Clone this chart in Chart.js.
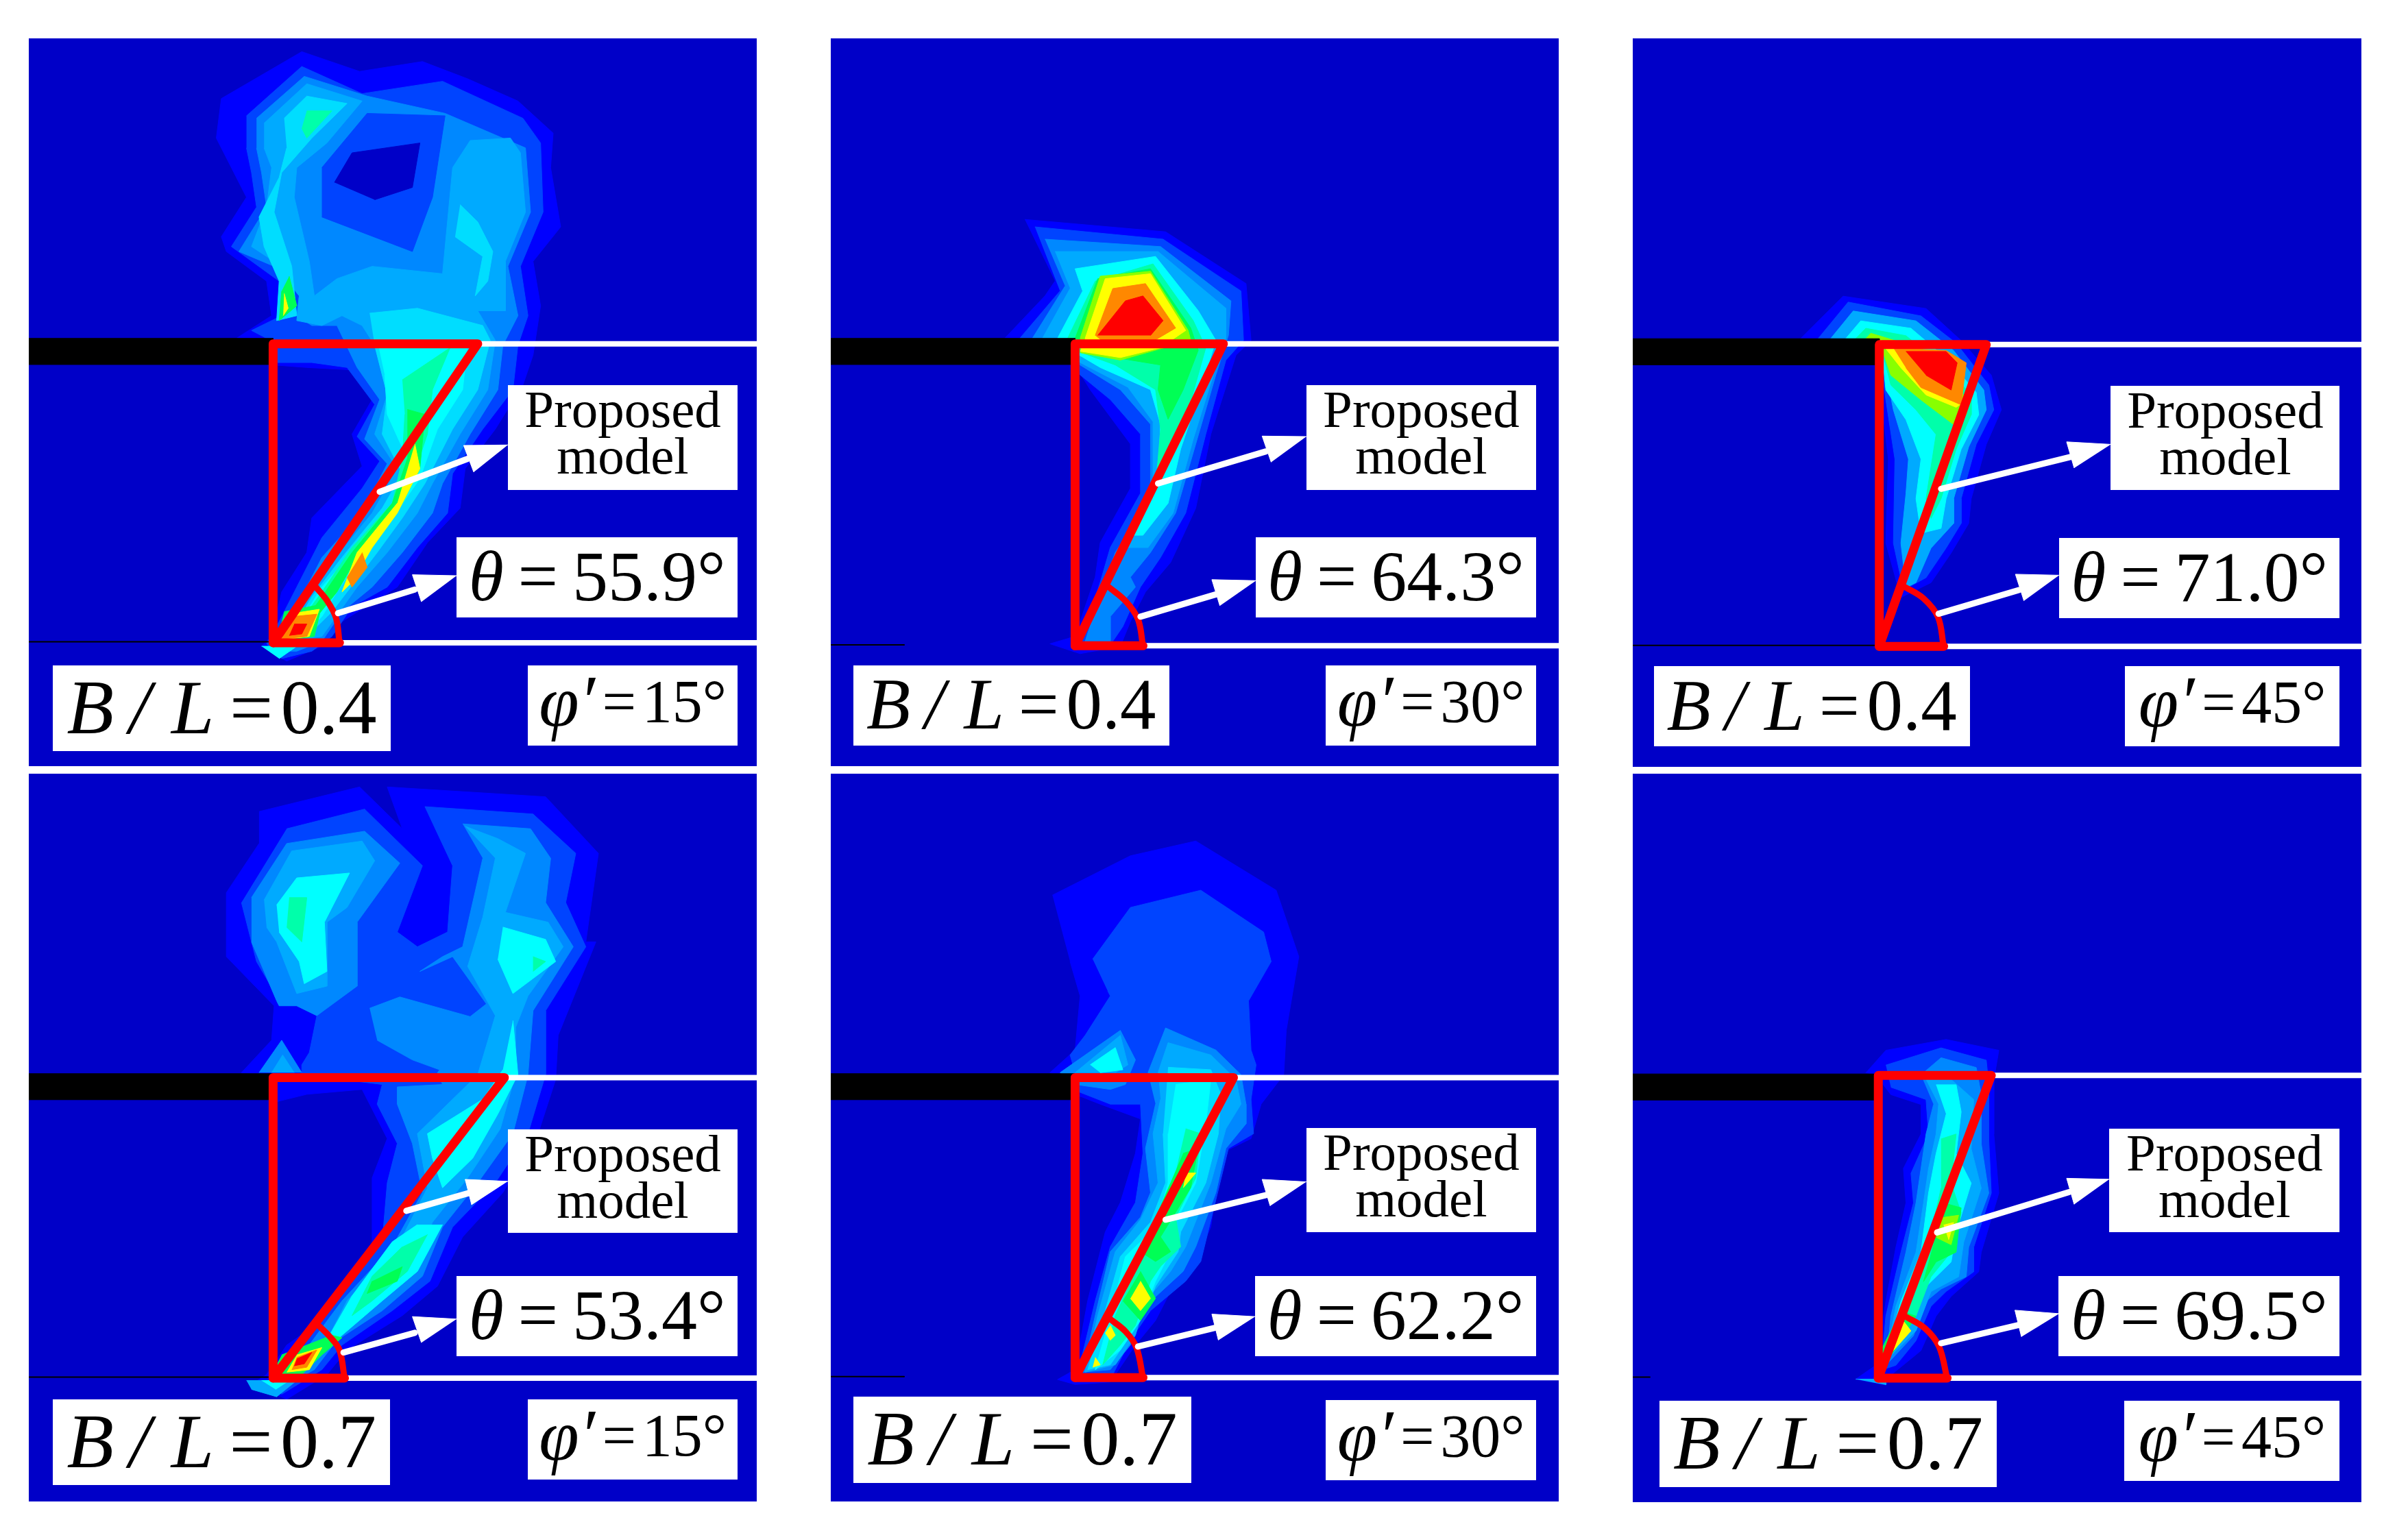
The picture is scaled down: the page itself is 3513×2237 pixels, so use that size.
<!DOCTYPE html>
<html>
<head>
<meta charset="utf-8">
<script src="https://cdn.jsdelivr.net/npm/chart.js@4"></script>
<style>
html,body{margin:0;padding:0;background:#fff;width:3513px;height:2237px;overflow:hidden}
.panel{position:absolute}
canvas{display:block;background:#0000c8}
.tag{position:absolute;background:#fff;color:#000;font-family:"Liberation Serif",serif;display:flex;align-items:center;justify-content:center;text-align:center;white-space:nowrap;box-sizing:border-box}
.tag i{font-style:italic}
</style>
</head>
<body>
<script>
// labels
const thetaLabels=['55.9','64.3','71.0','53.4','62.2','69.5'];
const ratioLabels=['0.4','0.4','0.4','0.7','0.7','0.7'];
const phiLabels=['15','30','45','15','30','45'];

// contour band colours, low to high
const bandColors=['#0000ff','#0044ff','#0088ff','#00aaff','#00ddff','#00ffff','#00ffaa','#00ff55','#88ff00','#ffff00','#ff8800','#ff0000','#0000c8'];

// panel 1: B/L 0.4, phi 15
const p1Levels=[0,1,2,1,12,3,4,4,4,5,6,7,9,10,7,9,10,11,6,7,9,5];
const p1Shapes=[
[470,686,540,640,530,570,450,510,440,480,490,400,465,350,430,280,440,200,600,105,715,145,840,125,930,160,1030,205,1100,270,1095,340,1115,460,1060,530,1075,620,1060,720,1040,780,985,870,925,950,915,1030,850,1100,790,1190,680,1260,640,1310,570,1340,520,1310,540,1290,560,1200,610,1120,620,1050,720,945,700,880,740,810,700,750,610,745,545,740],
[490,235,600,135,720,190,880,165,1040,240,1075,290,1080,430,1035,540,1050,640,1030,700,1020,790,960,870,900,960,890,1040,830,1110,770,1190,700,1230,660,1290,620,1320,560,1335,530,1305,555,1260,590,1190,640,1090,720,990,755,935,710,885,745,820,690,745,620,735,550,735,530,686,500,670,560,640,555,570,460,500,510,420,500,350,490,300],
[510,240,605,155,730,195,885,230,1045,300,1055,430,1010,540,1030,640,1000,700,990,790,935,880,880,980,860,1040,800,1120,740,1190,680,1240,640,1300,590,1320,555,1320,590,1230,640,1130,720,1040,770,940,725,890,755,810,710,745,670,660,620,660,590,640,595,600,545,540,475,510,530,420,520,350,510,300],
[640,340,730,230,885,235,860,400,820,510,640,440],
[665,370,700,310,835,290,820,380,745,405],
[525,250,610,170,720,205,650,290,590,340,585,400,615,530,625,600,670,565,740,540,880,555,900,340,935,285,1015,280,1035,310,1045,430,1005,530,1005,630,950,630,985,690,970,790,915,880,860,980,830,1040,770,1120,710,1190,675,1240,640,1290,570,1300,605,1220,660,1140,740,1040,790,950,745,880,770,800,745,700,720,660,680,640,640,660,590,650,595,600,545,530,500,500,530,420,540,340,525,300],
[565,240,610,195,690,210,620,280,560,350,545,430,580,540,590,640,550,650,555,570,525,500,515,440,555,360,570,300],
[915,415,950,450,980,510,970,570,945,600,960,520,905,480],
[735,635,830,625,960,660,975,690,950,790,900,870,845,980,800,1050,750,1120,690,1200,660,1240,610,1290,575,1290,620,1210,680,1130,760,1030,800,960,760,880,770,800,745,700],
[750,690,930,695,920,790,870,870,835,970,780,1050,730,1110,670,1200,640,1250,600,1290,585,1280,640,1190,710,1110,790,1010,810,930,770,840,765,760],
[800,770,895,705,860,790,850,880,820,970,770,1040,720,1100,680,1180,640,1230,600,1280,590,1270,640,1200,700,1110,780,1020,800,930,805,840],
[810,830,845,840,835,950,800,1020,750,1090,710,1130,670,1200,630,1250,590,1280,640,1210,700,1120,780,1020,810,930],
[825,900,835,950,790,1040,740,1110,700,1180,680,1200,710,1120,790,1020],
[720,1120,730,1150,700,1190,690,1170],
[565,1240,640,1225,625,1290,550,1300],
[572,1245,635,1235,615,1290,558,1297],
[580,1250,630,1245,610,1290,560,1295],
[585,1265,610,1265,600,1285,575,1288],
[610,225,660,225,610,280,600,260],
[575,560,590,620,555,650,560,590],
[565,595,573,625,563,640],
[520,1310,590,1310,555,1335]
];

// panel 2: B/L 0.4, phi 30
const p2Levels=[0,1,2,3,5,6,7,8,9,10,11,7];
const p2Shapes=[
[430,445,710,470,870,575,880,690,850,720,800,880,770,1030,720,1140,670,1200,640,1260,620,1310,540,1325,480,1305,530,1290,570,1170,580,1100,640,990,640,900,560,790,530,740,530,686,390,686,470,600,490,570],
[450,460,705,485,860,590,865,690,830,730,790,880,750,1040,700,1130,660,1190,625,1270,605,1300,540,1310,580,1180,600,1110,660,1000,660,880,600,810,540,760,530,686,420,686,500,590],
[470,485,700,500,840,610,835,680,810,760,770,900,730,1040,680,1120,640,1170,650,1190,600,1250,600,1300,550,1300,585,1190,610,1120,680,1010,680,860,620,790,540,740,530,686,445,686,510,580],
[490,510,695,510,830,625,830,685,805,760,765,890,725,1040,675,1110,630,1110,685,1000,685,855,635,785,540,735,530,686,465,686,520,585],
[495,686,545,590,530,545,690,520,775,630,810,690,780,790,740,910,715,1020,665,1085,645,1085,695,980,700,860,680,790,580,745,530,715],
[515,686,570,570,685,535,765,650,790,705,750,850,710,950,690,990,700,870,690,790,610,740,535,712],
[530,686,575,565,680,545,760,665,775,710,745,790,715,850,695,790,700,740,640,730,560,715],
[540,686,580,560,680,550,755,670,760,690,620,730,540,715],
[550,686,590,565,680,555,750,670,700,705,620,725,540,712],
[570,680,605,585,670,575,730,665,680,695,600,705],
[575,680,630,610,665,600,705,650,680,680],
[700,770,770,720,740,800,710,790]
];

// panel 3: B/L 0.4, phi 45
const p3Levels=[0,1,3,5,6,8,9,10,11];
const p3Shapes=[
[360,686,445,600,610,625,680,690,740,760,760,830,730,900,700,1010,695,1060,660,1120,620,1180,560,1210,530,1100,535,930,520,800,510,690],
[395,686,455,612,600,640,670,695,735,780,745,830,710,900,680,1010,680,1060,650,1110,610,1170,565,1195,545,1100,548,930,530,810,515,690],
[420,686,465,630,590,650,665,710,725,790,730,830,695,905,665,1010,665,1060,620,1110,590,1180,570,1190,560,1100,570,1000,575,930,545,830,520,700],
[450,686,480,650,580,665,655,730,710,795,715,840,680,910,650,1010,640,1070,600,1080,590,1010,600,930,570,850,530,790,520,690],
[470,686,490,665,570,680,650,745,700,800,700,840,670,910,640,1010,620,1050,610,1010,630,880,590,830,540,780,520,700],
[490,686,500,675,565,695,640,755,695,810,690,840,665,860,600,810,540,760,520,700],
[505,686,560,700,630,760,685,815,670,825,610,800,560,745,525,700],
[545,705,650,710,690,735,680,820,600,785,570,745],
[570,712,650,712,672,735,660,790,610,760]
];

// panel 4: B/L 0.7, phi 15
const p4Levels=[0,1,2,2,2,3,3,5,5,5,5,6,7,6,6,7,9,10,11,3,5,2,3];
const p4Shapes=[
[515,105,715,55,800,140,770,55,1085,75,1190,190,1165,370,1185,370,1110,560,1105,650,1070,760,1000,880,920,970,870,1070,800,1130,690,1200,650,1250,570,1300,500,1270,530,1250,570,1190,640,1140,740,1000,740,850,770,770,720,670,610,680,550,695,535,640,480,636,540,570,545,500,450,400,450,270,515,170],
[570,140,725,100,840,215,790,350,830,380,890,350,900,215,845,95,1060,110,1145,190,1125,290,1165,380,1085,510,1085,640,1050,760,985,860,900,950,855,1060,780,1120,680,1190,640,1240,560,1290,540,1270,600,1190,670,1100,760,980,770,860,790,780,750,700,760,660,600,640,600,620,615,595,630,520,590,500,550,480,510,410,480,290],
[500,280,570,170,725,145,795,210,710,330,710,460,630,520,590,500,555,500,550,490,500,370],
[920,130,1055,140,1095,200,1085,290,1140,380,1060,510,1050,640,1020,760,950,860,880,950,840,1050,760,1120,670,1180,625,1240,570,1270,600,1210,680,1100,780,990,840,880,820,780,790,700,790,665,880,660,870,636,970,500,900,400,835,430,880,400,920,380,960,200],
[735,505,795,482,935,522,975,490,985,530,950,636,890,636,820,610,750,570],
[525,285,580,185,720,165,745,205,690,300,650,330,650,460,590,475,550,370,530,340],
[925,135,990,160,1045,190,1005,310,1090,330,1120,380,1050,480,1025,545,1025,640,995,750,930,850,860,940,820,1040,750,1105,660,1170,640,1200,690,1100,790,990,850,870,830,760,950,640,985,520,930,420,960,320,985,200],
[550,295,590,240,695,230,645,330,650,430,605,455,595,410,555,350],
[1000,340,1085,365,1105,410,1020,475,990,405],
[1020,530,1030,640,990,720,940,810,880,870,860,810,850,760,960,690,1000,630],
[880,945,830,1040,760,1100,680,1170,630,1215,700,1090,780,980,830,945],
[850,965,810,1040,740,1100,700,1130,740,1050,800,990],
[800,1030,790,1060,730,1085,740,1060],
[575,280,610,280,600,370,570,340],
[1060,400,1085,410,1060,430],
[560,1210,660,1170,680,1175,640,1210,600,1250,560,1250,550,1230],
[590,1210,640,1195,615,1240,570,1245],
[590,1215,630,1200,610,1235,580,1240],
[590,1218,620,1205,605,1228,585,1232],
[490,1262,590,1262,550,1295,500,1280],
[520,1262,575,1262,548,1280],
[515,636,560,570,600,636],
[540,636,562,600,585,636]
];

// panel 5: B/L 0.7, phi 30
const p5Levels=[0,1,2,3,5,2,3,4,5,6,7,9,7,9,9,9];
const p5Shapes=[
[485,275,640,195,770,165,930,265,975,400,950,550,945,640,900,700,880,770,820,800,800,950,760,1040,720,1080,690,1140,650,1190,600,1265,530,1270,495,1260,530,1240,555,1100,590,960,620,900,650,800,660,730,580,700,530,680,480,636,530,590,540,480,520,410],
[565,405,640,300,780,265,905,350,920,410,875,490,880,590,890,620,880,690,885,760,835,790,780,1020,750,1060,680,1120,640,1180,605,1250,535,1250,570,1100,600,990,650,900,665,800,660,700,600,700,530,672,530,636,520,600,550,560,600,480,595,470],
[500,636,620,550,650,610,630,660,600,670,530,660],
[530,636,620,560,635,620,610,636],
[560,620,610,585,625,630,580,636],
[675,636,710,545,810,590,860,640,870,700,870,740,830,790,810,880,770,990,745,1040,660,1120,640,1190,600,1240,545,1245,570,1130,600,1000,660,930,680,880,670,790,690,700],
[695,636,715,575,800,600,850,650,860,700,830,750,800,860,750,990,720,1040,670,1100,650,1170,610,1230,550,1245,575,1130,610,1000,660,935,695,860,685,760,700,690],
[715,625,800,630,820,680,815,760,790,860,740,960,735,1000,690,1070,670,1120,640,1170,600,1230,555,1240,590,1120,620,1010,680,940,710,860,705,760],
[730,660,800,650,790,740,770,860,725,950,720,1000,690,1060,660,1140,620,1200,570,1240,600,1130,630,1010,690,950,715,860,715,760],
[750,750,780,760,770,850,730,930,740,990,700,1030,680,1060,650,1150,620,1190,585,1230,610,1130,650,1040,700,950,725,860],
[745,800,775,790,760,870,700,970,720,1000,690,1020,660,1000],
[750,840,770,840,745,870],
[660,1040,690,1095,660,1140,625,1100],
[660,1060,680,1095,660,1120,640,1095],
[600,1150,610,1170,600,1180,590,1165],
[570,1215,580,1230,565,1235]
];

// panel 6: B/L 0.7, phi 45
const p6Levels=[0,1,2,3,5,6,7,8,9,7,9,3];
const p6Shapes=[
[490,636,530,590,650,568,755,590,745,650,745,760,755,880,720,1000,715,1040,660,1090,630,1130,600,1200,540,1250,530,1270,470,1258,510,1230,530,1100,550,990,570,900,565,830,600,760,600,700,540,680,510,640],
[530,620,640,585,730,610,735,660,735,770,740,880,705,990,705,1040,650,1080,620,1110,590,1180,550,1230,520,1240,530,1130,560,1000,585,900,580,840,615,760,610,690,540,665],
[600,640,640,605,710,625,720,680,720,780,735,880,695,990,690,1050,640,1075,610,1100,585,1170,530,1230,540,1130,570,1000,590,900,600,830,610,760,625,700],
[610,650,650,640,705,690,700,790,720,870,685,980,675,1050,620,1080,590,1160,530,1220,550,1110,590,1000,605,900,615,830,630,760,635,700],
[630,660,670,660,680,715,670,800,700,860,670,960,660,1020,610,1070,580,1140,530,1210,560,1100,600,1000,615,880,630,800,650,720],
[640,770,670,760,660,860,680,920,660,1000,620,1050,590,1130,540,1200,570,1090,620,960,640,870],
[645,900,680,910,670,1000,630,1020,605,1060,640,930],
[640,930,675,925,660,985,630,970],
[645,945,665,940,655,975],
[520,1200,560,1120,590,1130,560,1180,530,1225],
[530,1200,565,1140,580,1160,545,1200],
[470,1258,530,1258,530,1270]
];

const allLevels=[p1Levels,p2Levels,p3Levels,p4Levels,p5Levels,p6Levels];
const allShapes=[p1Shapes,p2Shapes,p3Shapes,p4Shapes,p5Shapes,p6Shapes];

// proposed wedge: top-left, top-right, bottom-left, end of base
const wedges=[
[543,697,950,697,543,1303,675,1303],
[530,697,825,697,530,1309,665,1309],
[517,698,730,698,517,1309,645,1309],
[543,646,1003,646,543,1257,685,1257],
[530,646,845,646,530,1256,665,1256],
[515,641,740,641,515,1256,652,1256]
];
const arcs=[
[675,1303,668,1252,650,1217,628,1190],
[665,1309,655,1255,630,1218,597,1190],
[645,1309,634,1250,605,1212,565,1187],
[685,1257,675,1200,655,1172,628,1145],
[665,1256,652,1195,630,1162,597,1135],
[652,1256,636,1192,608,1155,568,1130]
];
// arrow shaft start, shaft end, head tip, head wings
const arrowsUpper=[
[755,997,930,930,1010,902,922,903,942,957],
[695,980,910,915,990,885,902,884,920,937],
[640,990,900,925,978,900,890,895,905,948],
[808,917,935,880,1010,857,925,853,938,905],
[710,935,910,885,990,858,902,853,918,907],
[632,960,895,878,975,852,890,850,905,903]
];
const arrowsLower=[
[672,1243,825,1195,908,1167,820,1165,838,1220],
[660,1250,810,1205,890,1177,802,1175,818,1228],
[635,1243,795,1195,875,1165,788,1163,805,1217],
[683,1205,825,1165,908,1137,820,1132,838,1185],
[655,1193,808,1155,888,1132,802,1127,815,1180],
[640,1185,795,1148,875,1125,787,1118,800,1172]
];
// footing bar bottom edge, thin base line end
const barBottoms=[739,739,739,691,691,691];
const barTops=[686,686,686,638,638,638];
const baseLineEnds=[535,190,510,535,190,60];

const panelX=[[57,1505],[44,1492],[26,1477],[57,1505],[44,1492],[26,1477]];
const panelY=[[78,1553],[78,1553],[78,1553],[28,1508],[28,1508],[28,1508]];
const panelLeft=[42,1212,2382,42,1212,2382];
const panelTop=[56,56,56,1129,1129,1129];
const panelSize=[1062,1062,1063,1062,1062,1063];

const proposedBoxes=[[1010,781,1467,993],[990,781,1447,993],[978,781,1434,993],[1010,751,1467,962],[990,749,1447,960],[975,749,1434,960]];
const thetaBoxes=[[908,1089,1467,1252],[889,1089,1447,1252],[875,1089,1434,1252],[908,1049,1467,1212],[888,1049,1447,1212],[874,1049,1434,1212]];
const ratioBoxes=[[105,1349,777,1523],[89,1349,717,1511],[68,1349,697,1511],[105,1301,776,1475],[89,1295,761,1470],[79,1302,751,1477]];
const phiBoxes=[[1050,1349,1467,1511],[1029,1349,1447,1511],[1006,1349,1434,1511],[1050,1301,1467,1464],[1029,1302,1447,1465],[1005,1302,1434,1465]];

function pts(a){
  const out=[];
  for(let i=0;i<a.length;i+=2)out.push({x:a[i],y:a[i+1]});
  return out;
}
function shape(a,color){
  return {data:pts(a),showLine:true,fill:'shape',backgroundColor:color,borderColor:color,borderWidth:1,pointRadius:0,tension:0};
}
function stroke(a,color,w,tension){
  return {data:pts(a),showLine:true,fill:false,borderColor:color,borderWidth:w,pointRadius:0,tension:tension||0,borderCapStyle:'round',borderJoinStyle:'round'};
}

function addTag(holder,chart,box,html,size,lift){
  const sx=chart.scales.x,sy=chart.scales.y;
  const l=sx.getPixelForValue(box[0]),r=sx.getPixelForValue(box[2]);
  const t=sy.getPixelForValue(box[1]),b=sy.getPixelForValue(box[3]);
  const d=document.createElement('div');
  d.className='tag';
  d.style.left=l+'px';d.style.top=t+'px';d.style.width=(r-l)+'px';d.style.height=(b-t)+'px';
  d.style.fontSize=size+'px';
  d.style.paddingBottom=(lift||0)+'px';
  d.innerHTML=html;
  holder.appendChild(d);
}

thetaLabels.forEach((lab,i)=>{
  const holder=document.createElement('div');
  holder.className='panel';
  holder.style.left=panelLeft[i]+'px';holder.style.top=panelTop[i]+'px';
  holder.style.width=panelSize[i]+'px';holder.style.height=panelSize[i]+'px';
  const cv=document.createElement('canvas');
  cv.width=panelSize[i];cv.height=panelSize[i];
  holder.appendChild(cv);
  document.body.appendChild(holder);

  const ds=[];
  allShapes[i].forEach((s,j)=>ds.push(shape(s,bandColors[allLevels[i][j]])));
  const [x0,x1]=panelX[i];
  const w=wedges[i],ua=arrowsUpper[i],la=arrowsLower[i];
  // footing, ground lines
  ds.push(shape([x0,barTops[i],w[0],barTops[i],w[0],barBottoms[i],x0,barBottoms[i]],'#000'));
  ds.push(stroke([x0,w[5]-2,baseLineEnds[i],w[5]-2],'#000',2));
  ds.push(stroke([w[2],w[3],x1+20,w[3]],'#fff',8));
  ds.push(stroke([w[6],w[7],x1+20,w[7]],'#fff',8));
  // proposed wedge
  ds.push(stroke([w[0],w[1],w[2],w[3],w[4],w[5],w[0],w[1]],'#ff0000',13));
  ds.push(stroke([w[4],w[5],w[6],w[7]],'#ff0000',13));
  ds.push(stroke(arcs[i],'#ff0000',9,0.35));
  // arrows
  [ua,la].forEach(a=>{
    ds.push(stroke([a[0],a[1],a[2],a[3]],'#fff',9));
    ds.push(shape([a[4],a[5],a[6],a[7],a[8],a[9]],'#fff'));
  });
  ds.forEach((d,k)=>{d.order=-k;});

  const [y0,y1]=panelY[i];
  const chart=new Chart(cv,{
    type:'scatter',
    data:{datasets:ds},
    options:{
      responsive:false,animation:false,events:[],
      layout:{padding:0},
      plugins:{legend:{display:false},tooltip:{enabled:false},title:{display:false}},
      scales:{
        x:{type:'linear',display:false,min:x0,max:x1},
        y:{type:'linear',display:false,min:y0,max:y1,reverse:true}
      }
    }
  });

  addTag(holder,chart,proposedBoxes[i],'<span style="line-height:68px">Proposed<br>model</span>',77,14);
  addTag(holder,chart,thetaBoxes[i],'<i>θ</i><span style="margin:0 .2em">=</span>'+lab+'°',104,4);
  const rw=ratioBoxes[i][2]-ratioBoxes[i][0];
  addTag(holder,chart,ratioBoxes[i],'<i>B</i><i style="margin:0 .27em 0 .2em">/</i><i>L</i><span style="margin:0 .1em 0 .2em">=</span>'+ratioLabels[i],rw*0.167,2);
  addTag(holder,chart,phiBoxes[i],'<i style="font-size:1.2em">φ′</i><span style="margin:0 .1em 0 .12em">=</span>'+phiLabels[i]+'°',88,12);
});
</script>
</body>
</html>
